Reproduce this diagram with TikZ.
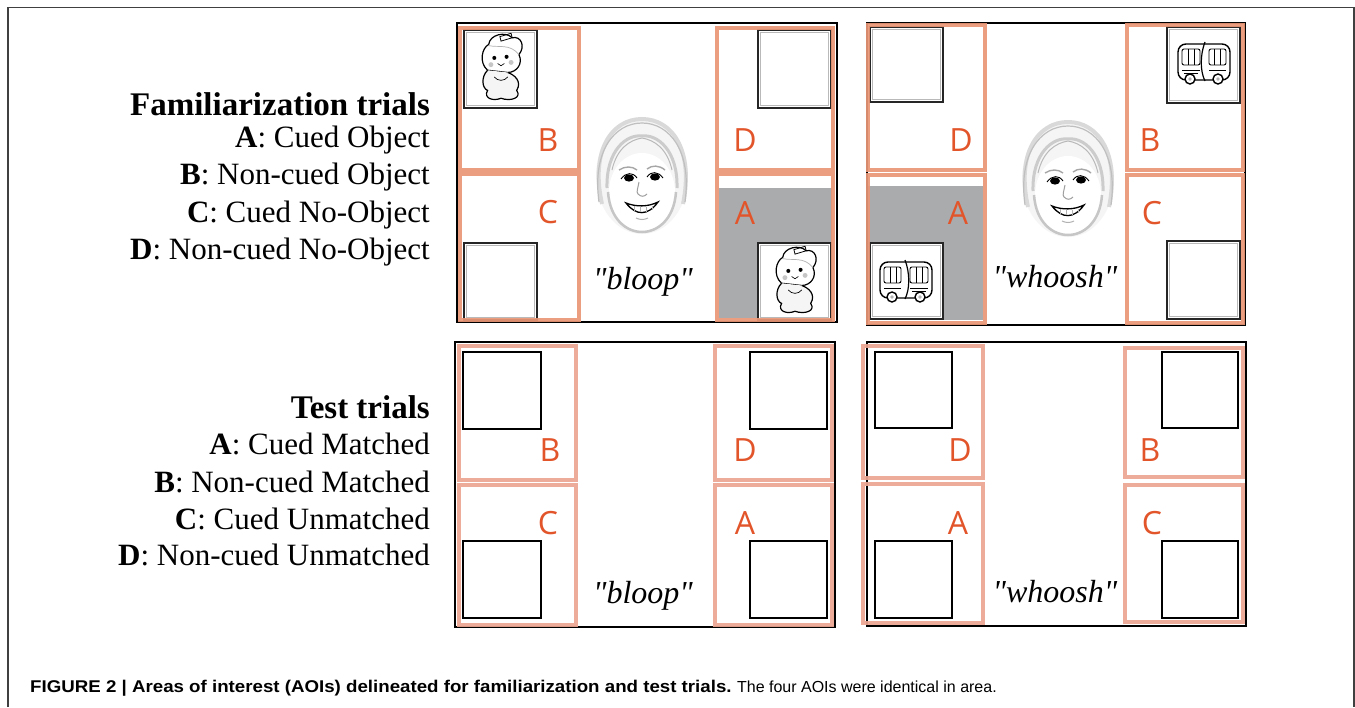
\documentclass[tikz,border=0pt]{standalone}
\usepackage{fontspec}
\setmainfont{Liberation Serif}
\newfontfamily\lblfont{Open Sans}
\newfontfamily\capfont{Liberation Sans}
\definecolor{aoiTop}{RGB}{234,150,118}
\definecolor{aoiBot}{RGB}{236,165,145}
\definecolor{lettr}{RGB}{226,84,42}
\definecolor{grayA}{RGB}{170,171,173}
\tikzset{
  panel/.style={draw=black, line width=1.6pt, fill=white},
  aoiT/.style={draw=aoiTop, line width=3.6pt, draw opacity=0.92},
  aoiB/.style={draw=aoiBot, line width=3.6pt, draw opacity=0.92},
  imgbox/.style={draw=black!85, line width=2pt, fill=white},
  imgin/.style={draw=gray!55, line width=0.8pt},
  tbox/.style={draw=black, line width=1.7pt},
  aoilabel/.style={text=lettr, font=\lblfont\fontsize{32}{32}\selectfont, inner sep=0pt},
  word/.style={anchor=base, font=\itshape\fontsize{32}{32}\selectfont, inner sep=0pt},
  legend/.style={anchor=base east, inner sep=0pt, font=\fontsize{31}{31}\selectfont},
  legtitle/.style={legend, font=\bfseries\fontsize{33}{33}\selectfont},
  face/.pic={
    \fill[gray!8] (0,-4) ellipse [x radius=46, y radius=58];
    \draw[gray!30, line width=4pt] (-40,24) .. controls (-52,-30) and (-30,-61) .. (0,-61) .. controls (30,-61) and (52,-30) .. (41,24);
    \draw[gray!50, line width=1.2pt] (-43,22) .. controls (-50,-28) and (-28,-57) .. (0,-57) .. controls (28,-57) and (50,-28) .. (43,22);
    \fill[white] (0,12) ellipse [x radius=33, y radius=39];
    \draw[gray!40, line width=3pt] (-35,8) .. controls (-36,-30) and (-15,-46) .. (0,-44) .. controls (15,-46) and (36,-30) .. (35,8);
    \draw[gray!55, line width=1pt] (-30,-10) .. controls (-25,-32) and (-12,-40) .. (0,-42);
    \draw[gray!55, line width=1pt] (30,-10) .. controls (25,-32) and (12,-40) .. (0,-42);
    \draw[gray!45, line width=2.5pt] (-34,12) .. controls (-32,40) and (-15,52) .. (0,52) .. controls (15,52) and (32,40) .. (34,12);
    \draw[gray!70, line width=1.4pt] (-23,-10) .. controls (-17,-14) and (-10,-14) .. (-5,-10);
    \draw[gray!70, line width=1.4pt] (5,-11) .. controls (10,-15) and (17,-15) .. (23,-10);
    \fill[black] (-13,-2) ellipse [x radius=5, y radius=3.6];
    \fill[black] (13,-3) ellipse [x radius=5, y radius=3.6];
    \draw[black, line width=0.9pt] (-21,-1) .. controls (-16,-8) and (-9,-8) .. (-5,-2);
    \draw[black, line width=0.9pt] (5,-3) .. controls (9,-9) and (16,-9) .. (21,-2);
    \draw[gray!75, line width=1pt] (-3,2) .. controls (-4,8) and (-6,12) .. (-4,14) .. controls (-1,17) and (2,17) .. (5,14);
    \filldraw[fill=white, draw=black, line width=1.3pt] (-16,23) .. controls (-6,36) and (6,36) .. (16,22) .. controls (6,27) and (-6,27) .. cycle;
    \draw[gray!60, line width=0.6pt] (-8,26) -- (-8,31) (-2,26.5) -- (-2,32) (4,26.5) -- (4,32) (10,25.5) -- (10,30);
    \draw[gray!60, line width=1pt] (-6,38) .. controls (-2,40) and (2,40) .. (6,38);
  },
  cat/.pic={
    \draw[black, line width=1.2pt, fill=white] (-12,2) .. controls (-20,-5) and (-17,-18) .. (-11,-21) .. controls (-10,-30) and (4,-33) .. (10,-27) .. controls (18,-29) and (22,-19) .. (16,-12) .. controls (20,-4) and (14,4) .. (6,4) -- cycle;
    \draw[black, line width=1.2pt, fill=gray!8] (-12,2) .. controls (-18,8) and (-17,18) .. (-12,20) .. controls (-16,27) and (-7,30) .. (0,27) .. controls (8,30) and (19,27) .. (14,20) .. controls (19,12) and (12,6) .. (6,4);
    \draw[black, line width=0.8pt] (-1,-28) -- (9,-31) -- (10,-27) -- (0,-24) -- cycle;
    \draw[gray!60, line width=0.7pt] (-11,-20) .. controls (-2,-18) and (8,-22) .. (16,-12);
    \fill[black] (-6,-9) circle (1.8);
    \fill[black] (5,-10) circle (1.8);
    \fill[gray!45] (-9,-3) circle (2.2);
    \fill[gray!45] (9,-5) circle (2.2);
    \draw[black, line width=0.6pt] (-3,-4) -- (0,-2) -- (3,-4);
    \draw[black, line width=0.7pt] (-6,8) .. controls (-3,12) and (3,12) .. (6,8);
  },
  bus/.pic={
    \draw[black, line width=1.4pt, fill=white, rounded corners=8pt] (-26,-19) rectangle (26,17);
    \draw[black, line width=1.2pt] (-1,-21) .. controls (4,-8) and (4,8) .. (-1,18);
    \draw[black, line width=0.9pt, rounded corners=2pt] (-22,-14) rectangle (-5,2);
    \draw[black, line width=0.9pt, rounded corners=2pt] (4,-14) rectangle (22,2);
    \draw[black, line width=0.8pt] (-16,-14) -- (-16,2) (-10,-14) -- (-10,2) (10,-14) -- (10,2) (16,-14) -- (16,2);
    \draw[black, line width=0.7pt] (-22,7) -- (-5,7) (4,7) -- (22,7) (6,10) -- (20,10);
    \draw[black, line width=1.4pt, fill=white] (-14,16) circle (5);
    \draw[black, line width=1.4pt, fill=white] (14,16) circle (5);
    \fill[gray!60] (-14,16) circle (1.8);
    \fill[gray!60] (14,16) circle (1.8);
  },
}
\newcommand\imgframe[4]{%
  \draw[imgbox] (#1,#2) rectangle (#3,#4);
  \draw[imgin] (#1+2.2,#2+2.2) rectangle (#3-2.2,#4-2.2);}
\newcommand\qq[1]{\textquotedbl#1\textquotedbl}
\begin{document}
\begin{tikzpicture}[x=1pt,y=-1pt]
\useasboundingbox (0,0) rectangle (1355,707);
\fill[white] (0,0) rectangle (1355,707);
% outer frame
\draw[black!75, line width=1.3pt] (8,707) -- (8,7.5) -- (1354,7.5) -- (1354,707);

% ===== legend texts =====
\node[legtitle] (famtitle) at (430,115) {Familiarization trials};
\node[legend] (famA) at (430,147) {\textbf{A}: Cued Object};
\node[legend] (famB) at (430,184) {\textbf{B}: Non-cued Object};
\node[legend] (famC) at (430,222) {\textbf{C}: Cued No-Object};
\node[legend] (famD) at (430,259) {\textbf{D}: Non-cued No-Object};
\node[legtitle] (testtitle) at (430,418) {Test trials};
\node[legend] (testA) at (430,454) {\textbf{A}: Cued Matched};
\node[legend] (testB) at (430,492) {\textbf{B}: Non-cued Matched};
\node[legend] (testC) at (430,529) {\textbf{C}: Cued Unmatched};
\node[legend] (testD) at (430,565) {\textbf{D}: Non-cued Unmatched};

% ===== top-left panel =====
\draw[panel] (457,23) rectangle (837,322);
\fill[grayA] (719,188) rectangle (832,318);
\imgframe{464}{30}{537}{108}
\imgframe{758}{30}{831}{108}
\imgframe{464}{243}{537}{320}
\imgframe{758}{243}{831}{320}
\pic[scale=1.12] at (501,68) {cat};
\pic[scale=1.12] at (795,281) {cat};
\draw[aoiT] (460,28) rectangle (579,170);
\draw[aoiT] (717,28) rectangle (833,170);
\draw[aoiT] (460,174) rectangle (579,320);
\draw[aoiT] (717,174) rectangle (833,320);
\pic at (642,180) {face};
\node[aoilabel] (tlB) at (548,140) {B};
\node[aoilabel] (tlD) at (745,140) {D};
\node[aoilabel] (tlC) at (548,212) {C};
\node[aoilabel] (tlA) at (745,213) {A};
\node[word] (tlword) at (643,289) {\qq{bloop}};

% ===== top-right panel =====
\draw[panel] (867,23) rectangle (1245,325);
\fill[grayA] (868,186) rectangle (983,320);
\imgframe{870}{27}{943}{102}
\imgframe{1167}{27}{1240}{103}
\imgframe{870}{243}{943}{319}
\imgframe{1167}{241}{1240}{319}
\pic[xscale=-1] at (1204,63) {bus};
\pic at (906,281) {bus};
\draw[aoiT] (868,25) rectangle (985,170);
\draw[aoiT] (1127,25) rectangle (1243,170);
\draw[aoiT] (868,175) rectangle (985,323);
\draw[aoiT] (1127,175) rectangle (1243,323);
\pic at (1068,183) {face};
\node[aoilabel] (trD) at (961,140) {D};
\node[aoilabel] (trB) at (1150,140) {B};
\node[aoilabel] (trA) at (958,213) {A};
\node[aoilabel] (trC) at (1152,213) {C};
\node[word] (trword) at (1055,287) {\qq{whoosh}};

% ===== bottom-left panel =====
\draw[panel] (455,342) rectangle (835,627);
\draw[tbox] (463,352) rectangle (541,429);
\draw[tbox] (750,352) rectangle (827,429);
\draw[tbox] (463,541) rectangle (541,618);
\draw[tbox] (750,541) rectangle (827,618);
\draw[aoiB] (459,346) rectangle (576,480);
\draw[aoiB] (715,346) rectangle (832,480);
\draw[aoiB] (459,485) rectangle (576,625);
\draw[aoiB] (715,485) rectangle (832,625);
\node[aoilabel] (blB) at (550,450) {B};
\node[aoilabel] (blD) at (745,450) {D};
\node[aoilabel] (blC) at (548,523) {C};
\node[aoilabel] (blA) at (745,523) {A};
\node[word] (blword) at (643,603) {\qq{bloop}};

% ===== bottom-right panel =====
\draw[panel] (867,342) rectangle (1246,626);
\draw[tbox] (875,352) rectangle (952,428);
\draw[tbox] (1162,352) rectangle (1238,428);
\draw[tbox] (875,541) rectangle (952,618);
\draw[tbox] (1162,541) rectangle (1238,618);
\draw[aoiB] (863,346) rectangle (983,478);
\draw[aoiB] (1125,348) rectangle (1243,477);
\draw[aoiB] (863,484) rectangle (983,623);
\draw[aoiB] (1125,485) rectangle (1243,622);
\node[aoilabel] (brD) at (960,450) {D};
\node[aoilabel] (brB) at (1150,450) {B};
\node[aoilabel] (brA) at (958,523) {A};
\node[aoilabel] (brC) at (1152,523) {C};
\node[word] (brword) at (1055,602) {\qq{whoosh}};

% ===== caption =====
\node[anchor=base west, inner sep=0pt, xscale=1.1, font=\capfont\bfseries\fontsize{17}{17}\selectfont] (captitle) at (30,692)
  {FIGURE 2 | Areas of interest (AOIs) delineated for familiarization and test trials.};
\node[anchor=base west, inner sep=0pt, font=\capfont\fontsize{16}{16}\selectfont] (captext) at ([xshift=5pt]captitle.base east)
  {The four AOIs were identical in area.};
\end{tikzpicture}
\end{document}
